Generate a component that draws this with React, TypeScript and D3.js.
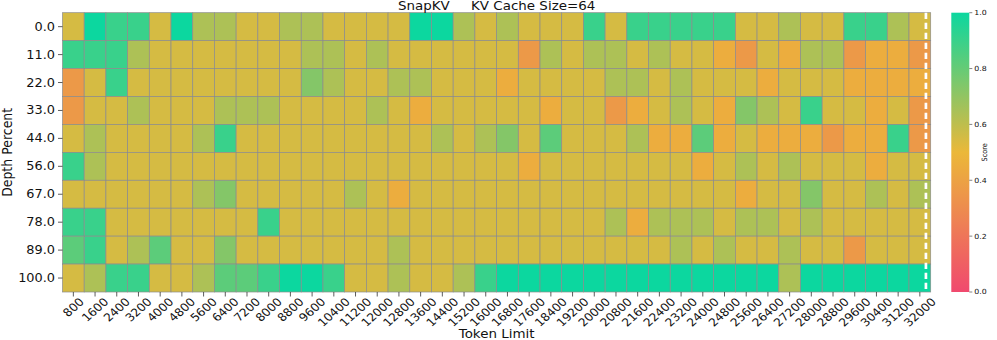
import React from 'react';
import * as d3 from 'd3';

// token limits (x categories)
const tokenLimits = [
  800, 1600, 2400, 3200, 4000, 4800, 5600, 6400, 7200, 8000,
  8800, 9600, 10400, 11200, 12000, 12800, 13600, 14400, 15200, 16000,
  16800, 17600, 18400, 19200, 20000, 20800, 21600, 22400, 23200, 24000,
  24800, 25600, 26400, 27200, 28000, 28800, 29600, 30400, 31200, 32000,
];

// depth percent (y categories)
const depthLabels = ['0.0', '11.0', '22.0', '33.0', '44.0', '56.0', '67.0', '78.0', '89.0', '100.0'];

// scores per depth row
const depth0 = [0.55, 1, 0.9, 0.9, 0.55, 1, 0.64, 0.64, 0.55, 0.55, 0.64, 0.64, 0.55, 0.55, 0.55, 0.55, 1, 1, 0.64, 0.55, 0.64, 0.55, 0.55, 0.55, 0.9, 0.55, 0.9, 0.9, 0.9, 0.9, 0.9, 0.55, 0.55, 0.64, 0.55, 0.55, 0.9, 0.9, 0.64, 0.55];
const depth11 = [0.9, 0.9, 0.9, 0.64, 0.55, 0.55, 0.55, 0.55, 0.55, 0.55, 0.55, 0.64, 0.64, 0.55, 0.64, 0.55, 0.55, 0.55, 0.55, 0.55, 0.55, 0.36, 0.64, 0.55, 0.64, 0.64, 0.55, 0.64, 0.55, 0.55, 0.45, 0.36, 0.55, 0.45, 0.64, 0.64, 0.36, 0.45, 0.45, 0.36];
const depth22 = [0.36, 0.55, 0.9, 0.55, 0.55, 0.55, 0.55, 0.55, 0.55, 0.55, 0.55, 0.73, 0.64, 0.55, 0.55, 0.64, 0.64, 0.55, 0.55, 0.55, 0.45, 0.55, 0.55, 0.55, 0.55, 0.64, 0.64, 0.55, 0.64, 0.55, 0.55, 0.55, 0.45, 0.55, 0.55, 0.55, 0.45, 0.45, 0.45, 0.45];
const depth33 = [0.36, 0.55, 0.55, 0.64, 0.55, 0.55, 0.55, 0.64, 0.64, 0.64, 0.55, 0.55, 0.55, 0.55, 0.64, 0.55, 0.45, 0.55, 0.55, 0.55, 0.55, 0.55, 0.45, 0.55, 0.55, 0.36, 0.45, 0.55, 0.64, 0.55, 0.45, 0.73, 0.64, 0.55, 0.9, 0.55, 0.55, 0.45, 0.55, 0.36];
const depth44 = [0.55, 0.64, 0.55, 0.55, 0.55, 0.55, 0.64, 0.9, 0.55, 0.55, 0.55, 0.55, 0.55, 0.55, 0.55, 0.55, 0.55, 0.64, 0.55, 0.64, 0.73, 0.55, 0.82, 0.55, 0.55, 0.55, 0.64, 0.45, 0.45, 0.82, 0.45, 0.55, 0.45, 0.45, 0.45, 0.36, 0.45, 0.45, 0.9, 0.36];
const depth56 = [0.9, 0.64, 0.55, 0.55, 0.55, 0.55, 0.55, 0.55, 0.55, 0.55, 0.55, 0.55, 0.55, 0.55, 0.55, 0.55, 0.55, 0.55, 0.55, 0.55, 0.55, 0.45, 0.55, 0.55, 0.55, 0.55, 0.55, 0.55, 0.55, 0.45, 0.55, 0.64, 0.55, 0.64, 0.55, 0.55, 0.55, 0.45, 0.55, 0.55];
const depth67 = [0.55, 0.55, 0.55, 0.55, 0.55, 0.55, 0.64, 0.73, 0.55, 0.55, 0.55, 0.55, 0.55, 0.64, 0.55, 0.45, 0.55, 0.55, 0.55, 0.55, 0.55, 0.55, 0.55, 0.55, 0.55, 0.55, 0.55, 0.55, 0.55, 0.55, 0.55, 0.45, 0.55, 0.55, 0.73, 0.55, 0.55, 0.64, 0.55, 0.64];
const depth78 = [0.9, 0.9, 0.55, 0.55, 0.55, 0.55, 0.55, 0.55, 0.55, 0.9, 0.55, 0.55, 0.55, 0.55, 0.55, 0.55, 0.55, 0.55, 0.55, 0.55, 0.55, 0.55, 0.55, 0.55, 0.55, 0.64, 0.45, 0.64, 0.64, 0.64, 0.55, 0.64, 0.64, 0.55, 0.64, 0.55, 0.55, 0.55, 0.55, 0.55];
const depth89 = [0.82, 0.9, 0.55, 0.64, 0.82, 0.55, 0.55, 0.73, 0.55, 0.55, 0.55, 0.55, 0.55, 0.55, 0.55, 0.64, 0.55, 0.55, 0.55, 0.55, 0.55, 0.55, 0.55, 0.55, 0.55, 0.55, 0.55, 0.55, 0.64, 0.55, 0.64, 0.55, 0.55, 0.64, 0.55, 0.55, 0.36, 0.55, 0.55, 0.55];
const depth100 = [0.55, 0.64, 0.9, 0.9, 0.55, 0.55, 0.64, 0.82, 0.82, 0.9, 1, 1, 0.9, 0.55, 0.55, 0.64, 0.55, 0.55, 0.64, 0.9, 1, 1, 1, 1, 1, 1, 1, 1, 1, 1, 1, 1, 1, 0.64, 1, 1, 1, 1, 1, 1];

const scoreRows = [depth0, depth11, depth22, depth33, depth44, depth56, depth67, depth78, depth89, depth100];

const colorbarTicks = [0, 0.2, 0.4, 0.6, 0.8, 1.0];
const cmapColors = ['#F0496E', '#EBB839', '#0CD79F'];

const W = 997;
const H = 340;
const plot = { left: 62.5, right: 930.7, top: 12.7, bottom: 292 };
const cbar = { left: 951.3, right: 969.3 };
const SX = 1.12; // text in the picture is a bit wide
const FONT = '"DejaVu Sans", sans-serif';

const Txt = ({ x, y, rot = 0, size, anchor = 'middle', children }: any) => (
  <text
    transform={`translate(${x},${y}) scale(${SX},1) rotate(${rot})`}
    fontSize={size}
    textAnchor={anchor}
    dy="0.35em"
    fill="#111"
    style={{ whiteSpace: 'pre' }}
  >
    {children}
  </text>
);

export default function App() {
  const x = d3.scaleBand<number>().domain(tokenLimits).range([plot.left, plot.right]);
  const y = d3.scaleBand<string>().domain(depthLabels).range([plot.top, plot.bottom]);
  const color = d3.scaleLinear<string>().domain([0, 0.5, 1]).range(cmapColors).interpolate(d3.interpolateRgb);
  const cy = d3.scaleLinear().domain([0, 1]).range([plot.bottom, plot.top]);

  const bw = x.bandwidth();
  const bh = y.bandwidth();
  const yTickFs = 11.5;
  const xTickFs = 11;
  const lastX = x(32000)! + bw * 0.78;

  return (
    <svg width={W} height={H} style={{ position: 'absolute', left: 0, top: 0, fontFamily: FONT }}>
      <defs>
        <linearGradient id="cbar" x1="0" y1="1" x2="0" y2="0">
          {d3.range(0, 1.0001, 0.05).map((t) => (
            <stop key={t} offset={t} stopColor={color(t)} />
          ))}
        </linearGradient>
      </defs>
      <rect width={W} height={H} fill="#fff" />

      {/* cells */}
      {scoreRows.map((row, ri) =>
        row.map((v, ci) => (
          <rect
            key={`${ri}-${ci}`}
            x={x(tokenLimits[ci])}
            y={y(depthLabels[ri])}
            width={bw}
            height={bh}
            fill={color(v)}
            stroke="#8c8c8c"
            strokeWidth={0.7}
          />
        ))
      )}

      {/* dashed marker */}
      <line x1={lastX} x2={lastX} y1={plot.top} y2={plot.bottom} stroke="#fff" strokeWidth={2.7} strokeDasharray="6.3 3.7" />

      {/* y axis */}
      {depthLabels.map((d) => {
        const yy = y(d)! + bh / 2;
        return (
          <g key={d}>
            <line x1={plot.left - 4.5} x2={plot.left} y1={yy} y2={yy} stroke="#333" strokeWidth={0.8} />
            <Txt x={plot.left - 7.5} y={yy} size={yTickFs} anchor="end">{d}</Txt>
          </g>
        );
      })}

      {/* x axis */}
      {tokenLimits.map((t) => {
        const xx = x(t)! + bw / 2;
        const s = String(t);
        const w = s.length * 0.636 * xTickFs;
        const h = 0.73 * xTickFs;
        const boxH = (w + h) / Math.SQRT2;
        return (
          <g key={t}>
            <line x1={xx} x2={xx} y1={plot.bottom} y2={plot.bottom + 4.5} stroke="#333" strokeWidth={0.8} />
            <Txt x={xx} y={plot.bottom + 5 + boxH / 2} rot={-45} size={xTickFs}>{s}</Txt>
          </g>
        );
      })}

      {/* titles */}
      <Txt x={(plot.left + plot.right) / 2} y={6} size={12}>{'SnapKV     KV Cache Size=64'}</Txt>
      <Txt x={(plot.left + plot.right) / 2} y={334} size={12}>Token Limit</Txt>
      <Txt x={7.5} y={(plot.top + plot.bottom) / 2} rot={-90} size={12.5}>Depth Percent</Txt>

      {/* colorbar */}
      <rect x={cbar.left} y={plot.top} width={cbar.right - cbar.left} height={plot.bottom - plot.top} fill="url(#cbar)" />
      {colorbarTicks.map((t) => (
        <g key={t}>
          <line x1={cbar.right} x2={cbar.right + 3} y1={cy(t)} y2={cy(t)} stroke="#333" strokeWidth={0.6} />
          <Txt x={cbar.right + 5} y={cy(t)} size={7} anchor="start">{t.toFixed(1)}</Txt>
        </g>
      ))}
      <Txt x={984} y={(plot.top + plot.bottom) / 2} rot={-90} size={6.5}>Score</Txt>
    </svg>
  );
}
